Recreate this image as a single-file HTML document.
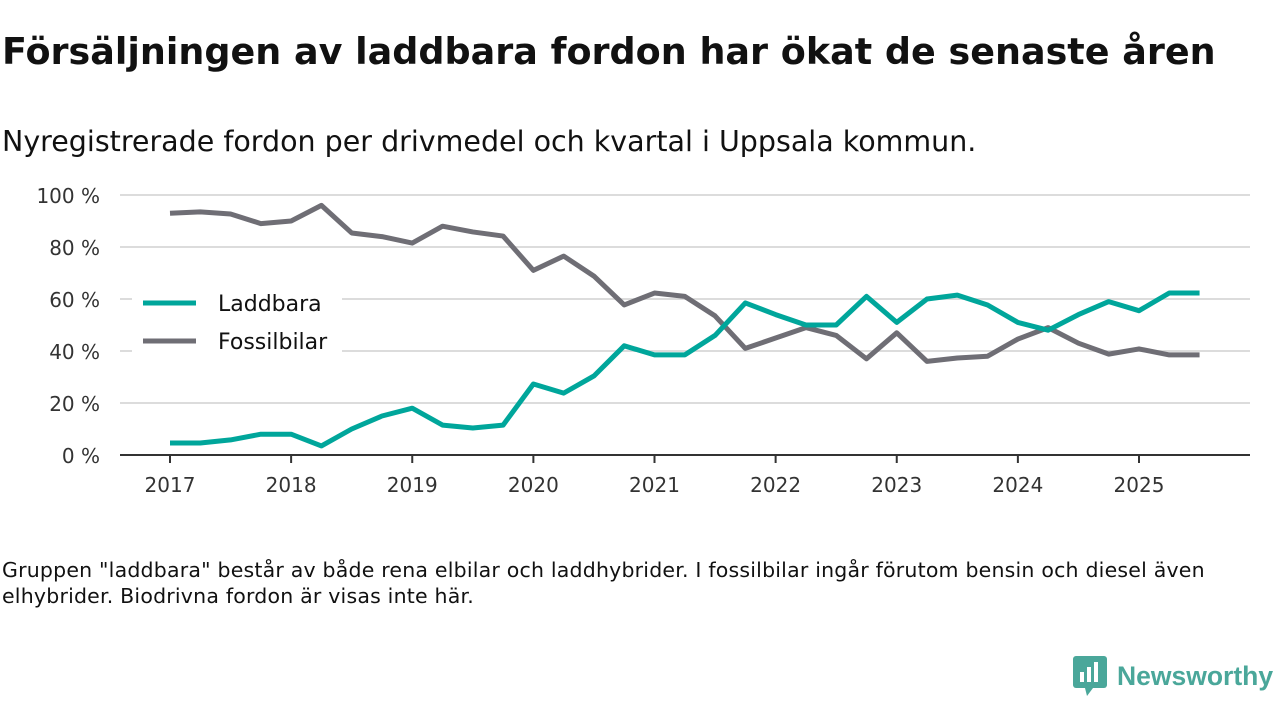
<!DOCTYPE html>
<html><head><meta charset="utf-8"><style>
body{margin:0;width:1280px;height:720px;background:#fff;font-family:"DejaVu Sans","Liberation Sans",sans-serif;color:#111;overflow:hidden;position:relative}
.t{position:absolute;left:2px;top:30px;font-size:36.5px;font-weight:bold;white-space:nowrap}
.s{position:absolute;left:2px;top:125px;font-size:28.5px;white-space:nowrap}
.f{position:absolute;left:2px;top:557px;font-size:20.5px;line-height:26px;width:1230px;letter-spacing:0.2px}
</style></head><body>
<div class="t">Försäljningen av laddbara fordon har ökat de senaste åren</div>
<div class="s">Nyregistrerade fordon per drivmedel och kvartal i Uppsala kommun.</div>
<svg id="c" width="1280" height="720" style="position:absolute;left:0;top:0"></svg>
<div class="f">Gruppen "laddbara" består av både rena elbilar och laddhybrider. I fossilbilar ingår förutom bensin och diesel även elhybrider. Biodrivna fordon är visas inte här.</div>
<div style="position:absolute;left:1073px;top:656px;display:flex;align-items:center">
<svg width="34" height="40"><rect x="0" y="0" width="34" height="32" rx="3" fill="#4aa79a"/><polygon points="12,32 20,32 14,40" fill="#4aa79a"/><rect x="7" y="16" width="4" height="10" fill="#fff"/><rect x="14" y="11" width="4" height="15" fill="#fff"/><rect x="21" y="6" width="4" height="20" fill="#fff"/></svg>
<span style="font-family:'Liberation Sans',sans-serif;font-size:26.5px;font-weight:bold;color:#4aa79a;margin-left:10px">Newsworthy</span></div>
<script>
const years=["2017","2018","2019","2020","2021","2022","2023","2024","2025"];
const yTicks=[0,20,40,60,80,100];
const laddbara=[4.6,4.6,5.8,8,8,3.5,10,15,18,11.5,10.4,11.5,27.3,23.8,30.4,42,38.5,38.5,46,58.5,54,50,50,61,51,60,61.5,57.7,51,48,54,59,55.5,62.3,62.3];
const fossil=[93,93.5,92.7,89,90,96,85.4,84,81.5,88,85.8,84.2,71,76.5,68.8,57.7,62.3,61,53.5,41,45,49,46,37,47,36,37.3,38,44.6,49,43,38.8,40.8,38.5,38.5];
const ns="http://www.w3.org/2000/svg",svg=document.getElementById('c');
const x=q=>170+q*(1139-170)/32, y=v=>455-v*2.6;
function mk(t,a){const e=document.createElementNS(ns,t);for(const k in a)e.setAttribute(k,a[k]);svg.appendChild(e);return e;}
yTicks.forEach(v=>{
 const g=mk('line',{x1:120,x2:1250,y1:y(v),y2:y(v),stroke:'#dcdcdc','stroke-width':2});
 
 
 const t=mk('text',{x:100,y:y(v)+8,'text-anchor':'end','font-size':20,fill:'#333'});t.textContent=v+' %';
 
 
});
const ax=mk('line',{x1:120,x2:1250,y1:455,y2:455,stroke:'#333','stroke-width':2});


years.forEach((yr,i)=>{
 mk('line',{x1:x(i*4),x2:x(i*4),y1:455,y2:463,stroke:'#333','stroke-width':2});
 const t=mk('text',{x:x(i*4),y:492,'text-anchor':'middle','font-size':20,fill:'#333'});t.textContent=yr;
 
 
});
mk('rect',{x:132,y:288,width:210,height:68,fill:'#fff'});
function line(d,c,n){
 const p=mk('polyline',{points:d.map((v,i)=>x(i)+','+y(v)).join(' '),fill:'none',stroke:c,'stroke-width':5,'stroke-linejoin':'round'});
 
 
}
line(fossil,'#6f6e75','line-fossilbilar');
line(laddbara,'#00a69b','line-laddbara');
[['Laddbara','#00a69b',303],['Fossilbilar','#6f6e75',341]].forEach(([n,c,yy])=>{
 const l=mk('line',{x1:143,x2:196,y1:yy,y2:yy,stroke:c,'stroke-width':5});
 
 
 const t=mk('text',{x:218,y:yy+8,'font-size':22,fill:'#111'});t.textContent=n;
 
 
});
</script>
</body></html>
